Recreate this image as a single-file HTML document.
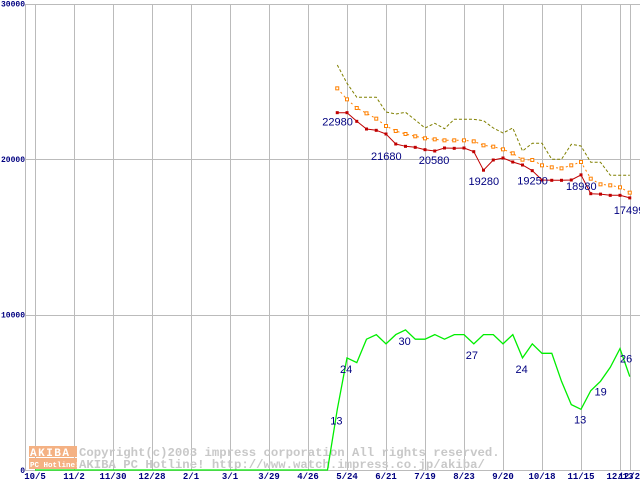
<!DOCTYPE html>
<html><head><meta charset="utf-8"><style>
body{margin:0;background:#fff;}
svg{display:block;font-family:"Liberation Mono",monospace;}
</style></head><body>
<svg id="chart" width="640" height="480" xmlns="http://www.w3.org/2000/svg">
<rect x="0" y="0" width="640" height="480" fill="#fff"/>
<g id="grid"></g>
<g id="wm">
<rect x="29" y="446" width="48" height="11" fill="#f4b183"/>
<rect x="29" y="458" width="48" height="11" fill="#f4b183"/>
<text x="30" y="456" font-size="11" font-weight="bold" fill="#fff" letter-spacing="1.5">AKIBA</text>
<text x="30" y="467" font-size="7.5" font-weight="bold" fill="#fff">PC Hotline!</text>
<text x="79" y="456" font-size="12.3" font-weight="bold" fill="#c8c8c8">Copyright(c)2003 impress corporation All rights reserved.</text>
<text x="79" y="468" font-size="12.3" font-weight="bold" fill="#c8c8c8">AKIBA PC Hotline!  http://www.watch.impress.co.jp/akiba/</text>
</g>
<g id="series"></g>
</svg>
<script>
const xLabels=["10/5","11/2","11/30","12/28","2/1","3/1","3/29","4/26","5/24","6/21","7/19","8/23","9/20","10/18","11/15","12/13","12/20"];
const yTicks=[0,10000,20000,30000];
const startWeek=31;
const priceMin=[22980,22980,22422,21929,21844,21608,20965,20815,20750,20600,20514,20707,20686,20707,20471,19280,19936,20064,19807,19614,19250,18650,18630,18630,18650,18980,17770,17740,17663,17663,17499];
const priceAvg=[24544,23837,23280,22937,22594,22122,21801,21608,21458,21329,21265,21200,21200,21200,21136,20879,20793,20622,20364,19957,19936,19593,19464,19400,19593,19807,18735,18371,18307,18178,17835];
const priceMax=[26045,24866,23965,23965,23965,23023,22894,23001,22508,21994,22294,21951,22551,22551,22551,22465,21994,21672,21994,20514,21008,21008,19979,19979,20943,20836,19786,19786,18950,18950,18950];
const counts=[13,24,23,28,29,27,29,30,28,28,29,28,29,29,27,29,29,27,29,24,27,25,25,19,14,13,17,19,22,26,20];
const priceLabels=[[0,"22980",-15,13],[5,"21680",-15,26],[10,"20580",-16,13],[15,"19280",-15,15],[20,"19250",-15,14],[25,"18980",-15,15],[30,"17499",-16,16]];
const countLabels=[[0,"13",-7,15],[1,"24",-7,15],[7,"30",-7,15],[14,"27",-8,15],[19,"24",-7,15],[25,"13",-7,14],[27,"19",-6,14],[29,"26",0,14]];
const NS="http://www.w3.org/2000/svg";
const X0=35,WK=9.75,Y0=470;
function xw(w){return X0+w*WK;}
function yp(v){return Y0-v*0.01555;}
function yc(c){return Y0-c*4.67;}
function mk(tag,attrs,parent){const e=document.createElementNS(NS,tag);for(const k in attrs)e.setAttribute(k,attrs[k]);parent.appendChild(e);return e;}
const grid=document.getElementById('grid');
mk('line',{x1:25.5,y1:4,x2:25.5,y2:470,stroke:'#bbb'},grid);
yTicks.forEach(v=>{
  const l=mk('line',{x1:25,x2:640,y1:Math.round(yp(v))+0.5,y2:Math.round(yp(v))+0.5,stroke:'#bbb'},grid);
  
  
  const t=mk('text',{x:25,y:yp(v)+3,'font-size':8,'font-weight':'bold',fill:'#000080','text-anchor':'end'},grid);
  
  
  t.textContent=v;
});
xLabels.forEach((s,i)=>{
  const x=i<16?xw(i*4):629.5;
  const l=mk('line',{x1:Math.round(x)+0.5,x2:Math.round(x)+0.5,y1:4,y2:470,stroke:'#bbb'},grid);
  
  
  const t=mk('text',{x:i<16?x:632,y:479,'font-size':9,'font-weight':'bold',fill:'#000080','text-anchor':'middle'},grid);
  
  
  t.textContent=s;
});
const g=document.getElementById('series');
function pts(arr,fy){return arr.map((v,i)=>xw(startWeek+i).toFixed(1)+','+fy(v).toFixed(1)).join(' ');}
let p=mk('polyline',{points:pts(priceMax,yp),fill:'none',stroke:'#808000','stroke-dasharray':'3,2'},g);


p=mk('polyline',{points:pts(priceAvg,yp),fill:'none',stroke:'#ff8000','stroke-dasharray':'2,3'},g);


priceAvg.forEach((v,i)=>{
  const r=mk('rect',{x:xw(startWeek+i)-1.5,y:yp(v)-1.5,width:3,height:3,fill:'#fff',stroke:'#ff8000'},g);
  
  
});
p=mk('polyline',{points:pts(priceMin,yp),fill:'none',stroke:'#c00000'},g);


priceMin.forEach((v,i)=>{
  const r=mk('rect',{x:xw(startWeek+i)-1.5,y:yp(v)-1.5,width:3,height:3,fill:'#c00000'},g);
  
  
});
const cpts=[xw(0)+','+yc(0),xw(startWeek-1)+','+yc(0)].concat(counts.map((c,i)=>xw(startWeek+i).toFixed(1)+','+yc(c).toFixed(1)));
p=mk('polyline',{points:cpts.join(' '),fill:'none',stroke:'#00ee00','stroke-width':1.3},g);


priceLabels.forEach(([i,s,dx,dy])=>{
  const t=mk('text',{x:xw(startWeek+i)+dx,y:yp(priceMin[i])+dy,'font-size':11,fill:'#000080','font-family':'Liberation Sans, sans-serif'},g);
  
  
  t.textContent=s;
});
countLabels.forEach(([i,s,dx,dy])=>{
  const t=mk('text',{x:xw(startWeek+i)+dx,y:yc(counts[i])+dy,'font-size':11,fill:'#000080','font-family':'Liberation Sans, sans-serif'},g);
  
  
  t.textContent=s;
});
</script>
</body></html>
